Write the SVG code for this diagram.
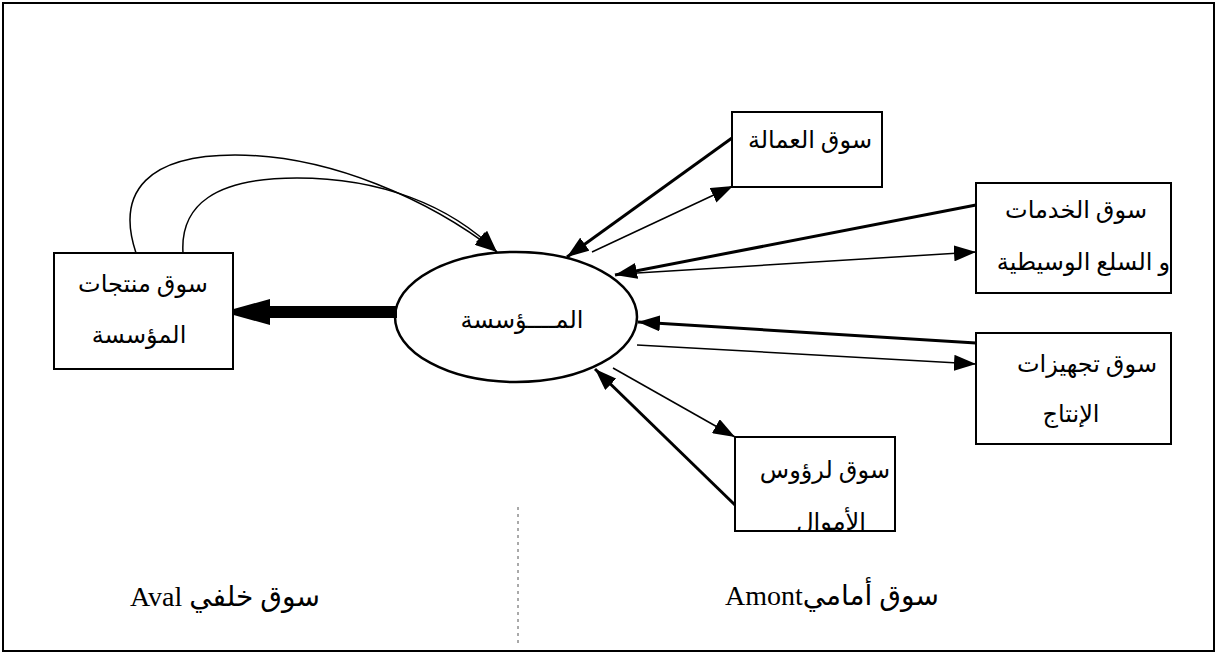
<svg xmlns="http://www.w3.org/2000/svg" width="1218" height="656" viewBox="0 0 1218 656">
  <style>
    .box { fill: #fff; stroke: #000; stroke-width: 2; }
    .lbl { font-family: "Liberation Serif", "DejaVu Sans", serif; font-size: 24px; fill: #000; }
    .big { font-family: "Liberation Serif", "DejaVu Sans", serif; font-size: 28px; fill: #000; }
    .thick { fill: none; stroke: #000; stroke-width: 3; }
    .thin { fill: none; stroke: #000; stroke-width: 1.5; }
  </style>
  <defs>
    <marker id="head" viewBox="0 0 22 16" refX="22" refY="8" markerWidth="22" markerHeight="16" markerUnits="userSpaceOnUse" orient="auto">
      <path d="M0,0 L22,8 L0,16 Z" fill="#000"/>
    </marker>
    <clipPath id="clip-capital">
      <rect x="735" y="437" width="160" height="94"/>
    </clipPath>
  </defs>

  <!-- outer frame -->
  <rect x="3" y="3" width="1211" height="648" fill="none" stroke="#000" stroke-width="2"/>

  <!-- divider between the two market sides -->
  <line x1="518" y1="507" x2="518" y2="646" stroke="#555" stroke-width="1" stroke-dasharray="3,4"/>

  <g id="connectors">
    <!-- loops from product market back to the firm -->
    <path class="thin" d="M136,253 C115,190 150,155 235,155 C330,155 430,200 497,252" marker-end="url(#head)"/>
    <path class="thin" d="M183,253 C180,205 215,178 297,178 C380,178 450,205 497,252" marker-end="url(#head)"/>
    <!-- firm to product market (heavy flow) -->
    <line x1="397" y1="312" x2="268" y2="312" stroke="#000" stroke-width="12"/>
    <path d="M223,312 L270,299 L270,325 Z" fill="#000"/>
    <!-- labour market -->
    <line class="thick" x1="732" y1="138" x2="567" y2="257" marker-end="url(#head)"/>
    <line class="thin" x1="592" y1="252" x2="733" y2="186" marker-end="url(#head)"/>
    <!-- services and intermediate goods -->
    <line class="thick" x1="976" y1="205" x2="615" y2="275" marker-end="url(#head)"/>
    <line class="thin" x1="637" y1="273" x2="976" y2="252" marker-end="url(#head)"/>
    <!-- production equipment -->
    <line class="thick" x1="976" y1="343" x2="638" y2="322" marker-end="url(#head)"/>
    <line class="thin" x1="637" y1="345" x2="976" y2="364" marker-end="url(#head)"/>
    <!-- capital market -->
    <line class="thin" x1="613" y1="368" x2="735" y2="437" marker-end="url(#head)"/>
    <line class="thick" x1="735" y1="505" x2="595" y2="369" marker-end="url(#head)"/>
  </g>

  <g id="firm">
    <ellipse cx="516" cy="317" rx="121" ry="65" fill="none" stroke="#000" stroke-width="2.5"/>
    <text class="lbl" x="522" y="328" text-anchor="middle" direction="rtl">المــــؤسسة</text>
  </g>

  <g id="product-market">
    <rect class="box" x="54" y="253" width="179" height="116"/>
    <text class="lbl" x="143" y="292" text-anchor="middle" direction="rtl">سوق منتجات</text>
    <text class="lbl" x="139" y="343" text-anchor="middle" direction="rtl">المؤسسة</text>
  </g>

  <g id="labour-market">
    <rect class="box" x="732" y="112" width="150" height="75"/>
    <text class="lbl" x="872" y="148" text-anchor="start" direction="rtl">سوق العمالة</text>
  </g>

  <g id="services-market">
    <rect class="box" x="976" y="183" width="195" height="110"/>
    <text class="lbl" x="1147" y="218" text-anchor="start" direction="rtl">سوق الخدمات</text>
    <text class="lbl" x="1170" y="270" text-anchor="start" direction="rtl">و السلع الوسيطية</text>
  </g>

  <g id="equipment-market">
    <rect class="box" x="976" y="333" width="195" height="111"/>
    <text class="lbl" x="1157" y="372" text-anchor="start" direction="rtl">سوق تجهيزات</text>
    <text class="lbl" x="1071" y="422" text-anchor="middle" direction="rtl">الإنتاج</text>
  </g>

  <g id="capital-market">
    <rect class="box" x="735" y="437" width="160" height="94"/>
    <g clip-path="url(#clip-capital)">
      <text class="lbl" x="890" y="478" text-anchor="start" direction="rtl">سوق لرؤوس</text>
      <text class="lbl" x="831" y="530" text-anchor="middle" direction="rtl">الأموال</text>
    </g>
  </g>

  <g id="side-labels">
    <text class="big" x="320" y="606" text-anchor="start" direction="rtl">سوق خلفي Aval</text>
    <text class="big" x="939" y="605" text-anchor="start" direction="rtl">سوق أماميAmont</text>
  </g>
</svg>
